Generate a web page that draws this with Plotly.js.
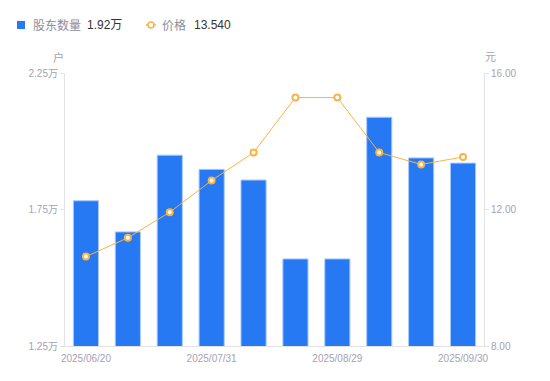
<!DOCTYPE html>
<html>
<head>
<meta charset="utf-8">
<script src="https://cdn.plot.ly/plotly-3.0.1.min.js"></script>
<style>html,body{margin:0;padding:0;background:#fff;}#chart{width:550px;height:381px;}</style>
</head>
<body>
<div id="chart"></div>
<script>
const dates = ["2025/06/20","2025/06/30","2025/07/10","2025/07/31","2025/08/10","2025/08/20","2025/08/29","2025/09/10","2025/09/19","2025/09/30"];
const holders = [1.782, 1.668, 1.949, 1.897, 1.858, 1.569, 1.569, 2.088, 1.939, 1.92];
const prices = [10.62, 11.17, 11.92, 12.85, 13.67, 15.28, 15.28, 13.67, 13.32, 13.54];
const shownDates = ["2025/06/20","2025/07/31","2025/08/29","2025/09/30"];
const leftTicks = [1.25, 1.75, 2.25];
const leftTickText = ["1.25万","1.75万","2.25万"];
const rightTicks = [8, 12, 16];
const rightTickText = ["8.00","12.00","16.00"];
const legendHolder = "1.92万";
const legendPrice = "13.540";

const FONT = '"Liberation Sans", "Noto Sans CJK SC", sans-serif';
const tickColor = '#a3a3b3';

const traces = [
  {
    type: 'bar', x: dates, y: holders, yaxis: 'y', name: '股东数量',
    marker: {color: '#2778f3', line: {color: '#a9c9f9', width: 1}},
    showlegend: false
  },
  {
    type: 'scatter', mode: 'lines+markers', x: dates, y: prices, yaxis: 'y2', name: '价格',
    line: {color: '#f8b446', width: 1},
    marker: {symbol: 'circle', size: 6, color: '#ffffff', line: {color: '#f8b446', width: 2}},
    showlegend: false
  }
];

const layout = {
  width: 550, height: 381,
  margin: {l: 65, r: 66, t: 73, b: 35},
  paper_bgcolor: '#fff', plot_bgcolor: '#fff',
  font: {family: FONT, size: 10, color: tickColor},
  bargap: 0.4,
  xaxis: {
    type: 'category', tickvals: shownDates, ticktext: shownDates,
    range: [-0.5, dates.length - 0.5], autorange: false,
    showline: true, linecolor: '#e3e3e3', linewidth: 1,
    showgrid: false, ticks: '', zeroline: false, ticklabelstandoff: 3,
    tickfont: {size: 10, color: tickColor}, fixedrange: true
  },
  yaxis: {
    range: [1.25, 2.25], tickvals: leftTicks, ticktext: leftTickText,
    showline: true, linecolor: '#e3e3e3', linewidth: 1,
    ticks: 'outside', ticklen: 4, tickcolor: '#e3e3e3',
    showgrid: false, zeroline: false,
    tickfont: {size: 10, color: tickColor}
  },
  yaxis2: {
    overlaying: 'y', side: 'right',
    range: [8, 16], tickvals: rightTicks, ticktext: rightTickText,
    showline: true, linecolor: '#e3e3e3', linewidth: 1,
    ticks: 'outside', ticklen: 4, tickcolor: '#e3e3e3',
    showgrid: false, zeroline: false,
    tickfont: {size: 10, color: tickColor}
  },
  shapes: [
    {type: 'rect', xref: 'paper', yref: 'paper', xsizemode: 'pixel', ysizemode: 'pixel',
     xanchor: 0, yanchor: 1, x0: -48, x1: -40, y0: 44, y1: 52,
     fillcolor: '#2778f3', line: {width: 0}},
    {type: 'line', xref: 'paper', yref: 'paper', xsizemode: 'pixel', ysizemode: 'pixel',
     xanchor: 0, yanchor: 1, x0: 81, x1: 91, y0: 48, y1: 48,
     line: {color: '#f8b446', width: 1.5}},
    {type: 'circle', xref: 'paper', yref: 'paper', xsizemode: 'pixel', ysizemode: 'pixel',
     xanchor: 0, yanchor: 1, x0: 83, x1: 89, y0: 45, y1: 51,
     fillcolor: '#ffffff', line: {color: '#f8b446', width: 1.5}}
  ],
  annotations: [
    {xref: 'paper', yref: 'paper', x: 0, y: 1, xshift: -34, yshift: 48, xanchor: 'left', yanchor: 'middle',
     showarrow: false, text: '股东数量', font: {size: 12, color: '#8c8c9c'}},
    {xref: 'paper', yref: 'paper', x: 0, y: 1, xshift: 20, yshift: 48, xanchor: 'left', yanchor: 'middle',
     showarrow: false, text: legendHolder, font: {size: 12, color: '#333333'}},
    {xref: 'paper', yref: 'paper', x: 0, y: 1, xshift: 95, yshift: 48, xanchor: 'left', yanchor: 'middle',
     showarrow: false, text: '价格', font: {size: 12, color: '#8c8c9c'}},
    {xref: 'paper', yref: 'paper', x: 0, y: 1, xshift: 127, yshift: 48, xanchor: 'left', yanchor: 'middle',
     showarrow: false, text: legendPrice, font: {size: 12, color: '#333333'}},
    {xref: 'paper', yref: 'paper', x: 0, y: 1, xshift: -7, yshift: 16, xanchor: 'center', yanchor: 'middle',
     showarrow: false, text: '户', font: {size: 11, color: tickColor}},
    {xref: 'paper', yref: 'paper', x: 1, y: 1, xshift: 6, yshift: 16, xanchor: 'center', yanchor: 'middle',
     showarrow: false, text: '元', font: {size: 11, color: tickColor}}
  ]
};

Plotly.newPlot('chart', traces, layout, {displayModeBar: false, staticPlot: true});
</script>
</body>
</html>
